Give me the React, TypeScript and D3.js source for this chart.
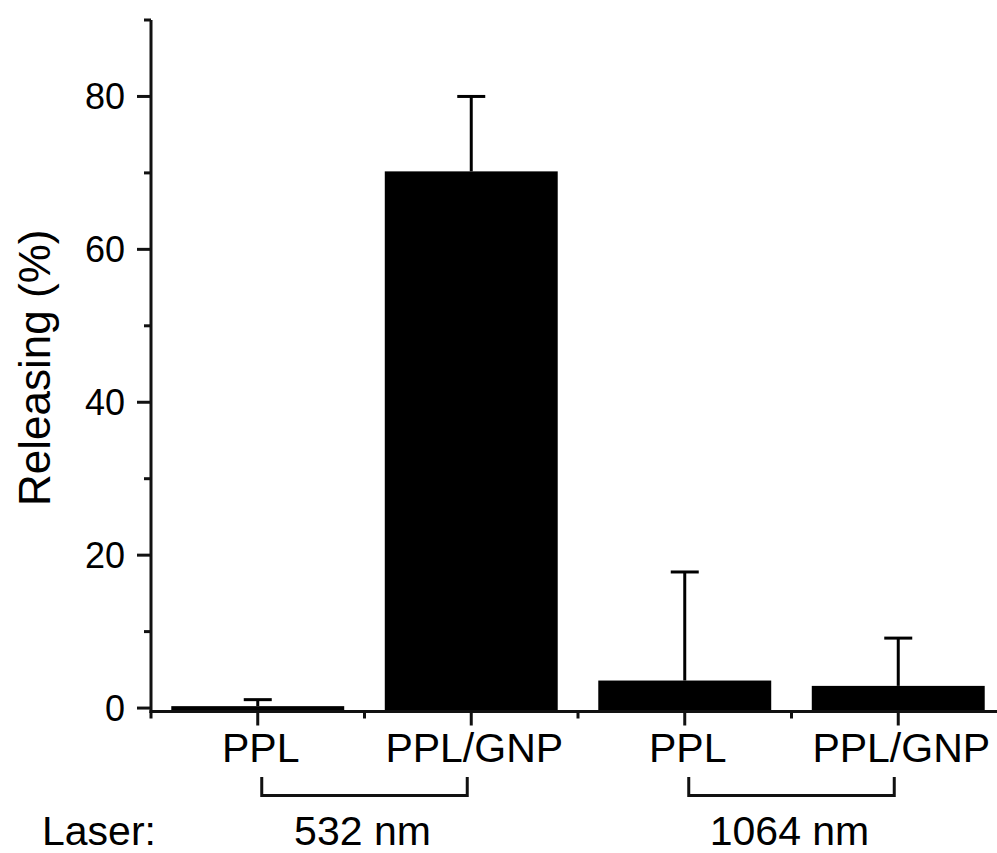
import React, { useEffect, useRef } from 'react';
import * as d3 from 'd3';

const WIDTH = 997;
const HEIGHT = 853;
const FONT = '"Liberation Sans", Arial, sans-serif';

// data
const sampleLabels = ['PPL', 'PPL/GNP', 'PPL', 'PPL/GNP'];
const laserGroups = ['532 nm', '532 nm', '1064 nm', '1064 nm'];
const releasing = [0.25, 70.2, 3.6, 2.9];
const releasingErr = [0.85, 9.8, 14.2, 6.25];
const yMajorTicks = [0, 20, 40, 60, 80];
const yMinorTicks = [10, 30, 50, 70, 90];

const keys = sampleLabels.map((s, i) => `${laserGroups[i]}|${s}`);

const App = () => {
    const svgRef = useRef<SVGSVGElement>(null);

    useEffect(() => {
        const svg = d3.select(svgRef.current);
        svg.selectAll('*').remove();

        const x = d3.scaleBand<string>()
            .domain(keys)
            .range([151, 1005])
            .paddingInner(0.19)
            .paddingOuter(0.095);

        const y = d3.scaleLinear()
            .domain([-0.45, 90])
            .range([711.5, 20]);

        const step = x.step();
        const center = (k: string) => (x(k) as number) + x.bandwidth() / 2;
        const axisY = y(-0.45);
        const axisX = 151;
        const SW = 3;

        // bars, drawn down to the axis line
        svg.append('g')
            .selectAll('rect')
            .data(keys)
            .join('rect')
            .attr('x', k => x(k) as number)
            .attr('width', x.bandwidth())
            .attr('y', (k, i) => y(releasing[i]))
            .attr('height', (k, i) => axisY - y(releasing[i]))
            .attr('fill', '#000');

        // error bars (upper only)
        const err = svg.append('g')
            .attr('stroke', '#000')
            .attr('stroke-width', SW)
            .attr('fill', 'none');
        keys.forEach((k, i) => {
            const cx = center(k);
            const top = y(releasing[i] + releasingErr[i]);
            err.append('line')
                .attr('x1', cx).attr('x2', cx)
                .attr('y1', y(releasing[i])).attr('y2', top);
            err.append('line')
                .attr('x1', cx - 14).attr('x2', cx + 14)
                .attr('y1', top).attr('y2', top);
        });

        const axes = svg.append('g')
            .attr('stroke', '#111')
            .attr('stroke-width', SW)
            .attr('fill', 'none');

        // y axis
        axes.append('line')
            .attr('x1', axisX).attr('x2', axisX)
            .attr('y1', y(90)).attr('y2', axisY + SW / 2);
        yMajorTicks.forEach(t => {
            axes.append('line')
                .attr('x1', axisX - 14).attr('x2', axisX)
                .attr('y1', y(t)).attr('y2', y(t));
        });
        yMinorTicks.forEach(t => {
            axes.append('line')
                .attr('x1', axisX - 7).attr('x2', axisX)
                .attr('y1', y(t)).attr('y2', y(t));
        });

        // x axis
        axes.append('line')
            .attr('x1', axisX - SW / 2).attr('x2', WIDTH + 10)
            .attr('y1', axisY).attr('y2', axisY);
        keys.forEach(k => {
            const cx = center(k);
            axes.append('line')
                .attr('x1', cx).attr('x2', cx)
                .attr('y1', axisY).attr('y2', axisY + 14);
        });
        d3.range(keys.length + 1).forEach(i => {
            const bx = 151 + i * step;
            axes.append('line')
                .attr('x1', bx).attr('x2', bx)
                .attr('y1', axisY).attr('y2', axisY + 7);
        });

        // y tick labels
        svg.append('g')
            .selectAll('text')
            .data(yMajorTicks)
            .join('text')
            .attr('x', 125)
            .attr('y', d => y(d))
            .attr('dy', '0.35em')
            .attr('text-anchor', 'end')
            .attr('font-size', 36)
            .attr('font-family', FONT)
            .text(d => d);

        // category labels
        svg.append('g')
            .selectAll('text')
            .data(keys)
            .join('text')
            .attr('x', k => center(k) + 3)
            .attr('y', 762)
            .attr('text-anchor', 'middle')
            .attr('font-size', 41)
            .attr('font-family', FONT)
            .text((k, i) => sampleLabels[i]);

        // laser group brackets and labels
        const groups = Array.from(new Set(laserGroups));
        groups.forEach(g => {
            const members = keys.filter((k, i) => laserGroups[i] === g);
            const x0 = center(members[0]) + 4;
            const x1 = center(members[members.length - 1]) - 4;
            svg.append('path')
                .attr('d', `M${x0},777 V795.5 H${x1} V777`)
                .attr('fill', 'none')
                .attr('stroke', '#111')
                .attr('stroke-width', SW);
            svg.append('text')
                .attr('x', (x0 + x1) / 2 - 2)
                .attr('y', 845)
                .attr('text-anchor', 'middle')
                .attr('font-size', 41)
                .attr('font-family', FONT)
                .text(g);
        });

        svg.append('text')
            .attr('x', 42)
            .attr('y', 845)
            .attr('font-size', 41)
            .attr('font-family', FONT)
            .text('Laser:');

        // y axis title
        svg.append('text')
            .attr('transform', `translate(50,${(y(90) + axisY) / 2 + 2}) rotate(-90)`)
            .attr('text-anchor', 'middle')
            .attr('font-size', 44)
            .attr('font-family', FONT)
            .text('Releasing (%)');
    }, []);

    return (
        <svg ref={svgRef}
            width={WIDTH}
            height={HEIGHT}
            style={{ position: 'absolute', left: 0, top: 0, background: '#fff' }} />
    );
};

export default App;
